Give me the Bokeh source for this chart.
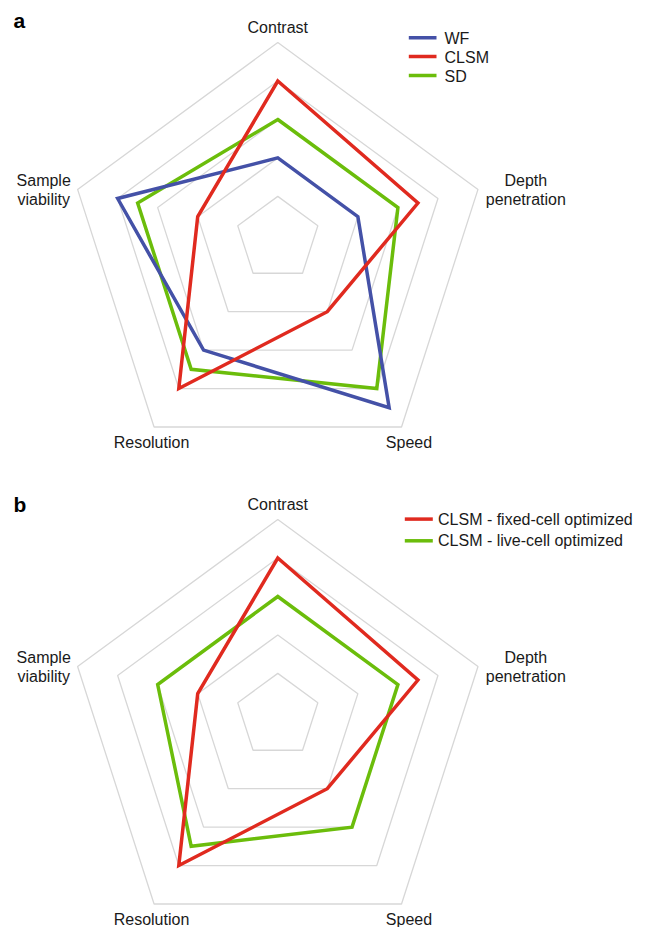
import math
from bokeh.plotting import figure
from bokeh.models import Range1d
from bokeh.core.properties import value
from bokeh.embed import file_html
from bokeh.resources import INLINE

# ---------------- data ----------------
axis_labels = ["Contrast", "Depth\npenetration", "Speed", "Resolution", "Sample\nviability"]
grid_levels = [1, 2, 3, 4, 5]
max_level = 5

panel_a_names = ["WF", "CLSM", "SD"]
wf_values = [2, 2, 4.5, 3, 4]
clsm_values = [4, 3.5, 2, 4, 2]
sd_values = [3, 3, 4, 3.5, 3.5]

panel_b_names = ["CLSM - fixed-cell optimized", "CLSM - live-cell optimized"]
fixed_values = [4, 3.5, 2, 4, 2]
live_values = [3, 3, 3, 3.5, 3]

panel_tags = ["a", "b"]

# ---------------- styling / layout ----------------
BLUE = "#4451a7"
RED = "#e02a1f"
GREEN = "#6bbd0b"
GRID = "#d7d7d7"
TEXT = "#1a1a1a"
FONT = "Liberation Sans"

W, H = 649, 927
CX, CY = 277.3, 234.3
RX, RY = 210.5, 212.5
C0 = (1 - math.cos(math.radians(36))) / 2
OFFSETS = [0, 477]
TS = -5.5  # text baseline correction

LABEL_POS = [(277.3, 32.7), (525.3, 185.5), (408.5, 447.3), (151.0, 447.3), (43.2, 185.5)]
LINE_GAP = 19.3

p = figure(width=W, height=H, x_range=Range1d(0, W), y_range=Range1d(H, 0),
           output_backend="svg", toolbar_location=None, min_border=0,
           x_axis_type=None, y_axis_type=None)
p.grid.visible = False
p.outline_line_color = None
p.background_fill_color = "white"
p.border_fill_color = "white"


def radar_xy(vals, off):
    xs, ys = [], []
    n = len(vals)
    for k, v in enumerate(vals):
        th = math.radians(360.0 / n * k)
        xs.append(CX + v / max_level * RX * math.sin(th))
        ys.append(off + CY - v / max_level * RY * (math.cos(th) - C0))
    return xs, ys


def draw_panel(off, series, legend, tag, tag_base):
    # grid rings
    for lv in grid_levels:
        xs, ys = radar_xy([lv] * len(axis_labels), off)
        p.patch(xs, ys, fill_alpha=0, line_color=GRID, line_width=1.3)
    # axis labels
    tx, ty, tt = [], [], []
    for (lx, ly), lab in zip(LABEL_POS, axis_labels):
        for i, line in enumerate(lab.split("\n")):
            tx.append(lx)
            ty.append(off + ly + TS + i * LINE_GAP)
            tt.append(line)
    p.text(x=tx, y=ty, text=tt, text_font=value(FONT), text_font_size="16px",
           text_align="center", text_baseline="alphabetic", text_color=TEXT)
    # series
    for vals, color in series:
        xs, ys = radar_xy(vals, off)
        p.patch(xs, ys, fill_alpha=0, line_color=color, line_width=3.5, line_join="miter")
    # legend
    x0, x1, y0, dy, txx, tb0 = legend["geom"]
    for i, (name, color) in enumerate(zip(legend["names"], legend["colors"])):
        p.segment(x0=[x0], y0=[off + y0 + i * dy], x1=[x1], y1=[off + y0 + i * dy],
                  line_color=color, line_width=3.5)
        p.text(x=[txx], y=[off + tb0 + TS + i * dy], text=[name], text_font=value(FONT),
               text_font_size="16px", text_align="left", text_baseline="alphabetic",
               text_color=TEXT)
    # panel tag
    p.text(x=[13], y=[off + tag_base + TS], text=[tag], text_font=value(FONT),
           text_font_size="21px", text_font_style="bold", text_align="left",
           text_baseline="alphabetic", text_color="black")


draw_panel(OFFSETS[0],
           [(sd_values, GREEN), (wf_values, BLUE), (clsm_values, RED)],
           {"names": panel_a_names, "colors": [BLUE, RED, GREEN],
            "geom": (408.3, 436.0, 37.3, 18.8, 444.0, 43.8)},
           panel_tags[0], 25.3)

draw_panel(OFFSETS[1],
           [(live_values, GREEN), (fixed_values, RED)],
           {"names": panel_b_names, "colors": [RED, GREEN],
            "geom": (404.3, 432.3, 41.6, 21.7, 437.5, 47.1)},
           panel_tags[1], 32.6)

open("out.html", "w").write(file_html(p, INLINE))
